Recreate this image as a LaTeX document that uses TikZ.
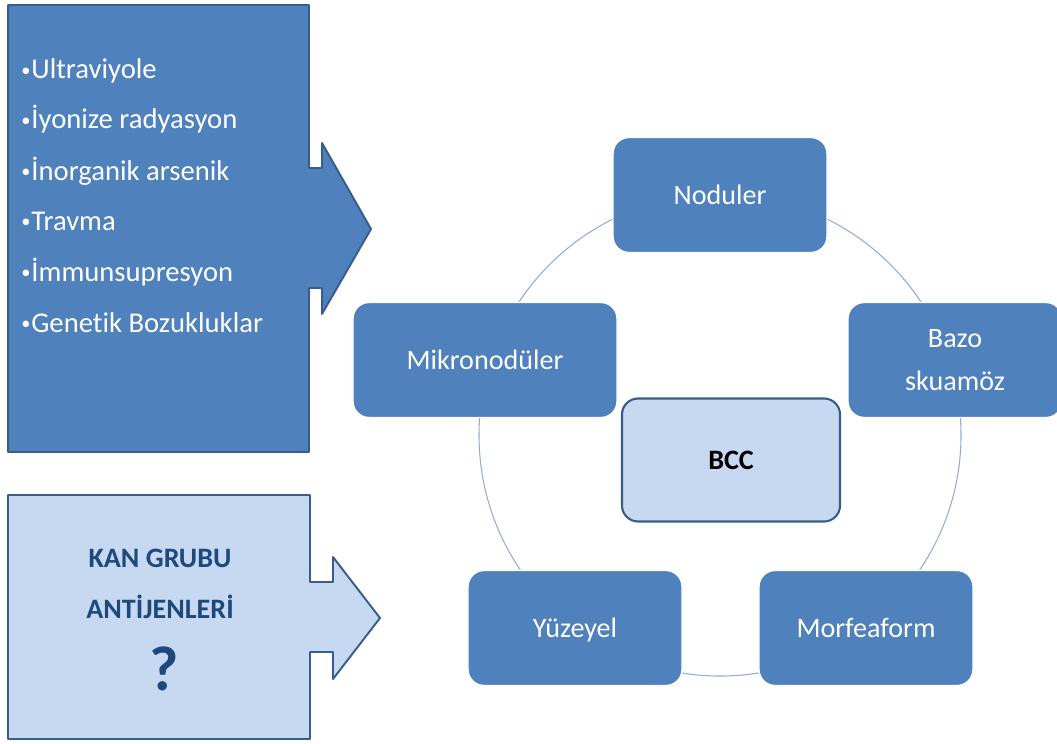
\documentclass[tikz,border=0pt]{standalone}
\usepackage{fontspec}
\setmainfont[Ligatures=NoCommon]{Carlito}
\usetikzlibrary{positioning}

\definecolor{accblue}{HTML}{4F81BD}
\definecolor{accdark}{HTML}{385D8A}
\definecolor{acclight}{HTML}{C6D9F1}
\definecolor{accnavy}{HTML}{1F497D}
\definecolor{ringblue}{HTML}{8FADD6}

\newcommand{\smallbul}{{\fontsize{10.5}{12}\selectfont\raisebox{1.4pt}{•}}\hspace{0.5pt}}

\begin{document}
\begin{tikzpicture}[line cap=round,line join=round,x=0.2mm,y=-0.2mm,
  cyclebox/.style={rectangle,rounded corners=3.2mm,fill=accblue,draw=white,line width=0.8pt,
    minimum width=42.8mm,minimum height=23mm,text=white,align=center,text depth=0pt,
    font=\fontsize{16}{24}\selectfont},
  centrebox/.style={rectangle,rounded corners=3.2mm,fill=acclight,draw=accdark,line width=1.2pt,
    minimum width=43.6mm,minimum height=24.6mm,text=black,
    font=\fontsize{16}{18}\selectfont\bfseries},
  listitem/.style={anchor=base west,inner sep=0pt,text=white,font=\fontsize{16.3}{18}\selectfont},
  antitem/.style={anchor=base,inner sep=0pt,text=accnavy,font=\fontsize{16}{18}\selectfont\bfseries},
  ringline/.style={draw=ringblue,line width=0.6pt}]
\useasboundingbox (0,0) rectangle (1057,743);
%\clip (0,0) rectangle (1057,743);
% risk factors callout
\draw [fill=accblue,draw=accdark,line width=1.1pt] (8,5) -- (309,5) -- (309,168) -- (322,168) -- (322,143)
  -- (371,229) -- (322,314) -- (322,288) -- (309,288) -- (309,452) -- (8,452) -- cycle;
\node[listitem] (uv) at (21,79) {\smallbul Ultraviyole};
\node[listitem] (iyon) at (21,129) {\smallbul İyonize radyasyon};
\node[listitem] (ars) at (21,180) {\smallbul İnorganik arsenik};
\node[listitem] (trav) at (21,230) {\smallbul Travma};
\node[listitem] (immun) at (21,281) {\smallbul İmmunsupresyon};
\node[listitem] (gen) at (21,332) {\smallbul Genetik Bozukluklar};
% blood group callout
\draw [fill=acclight,draw=accdark,line width=1.1pt] (8,495) -- (310,495) -- (310,582) -- (333,582) -- (333,557)
  -- (380,618) -- (333,679) -- (333,652) -- (310,652) -- (310,739) -- (8,739) -- cycle;
\node[antitem] (kan) at (160,567) {KAN GRUBU};
\node[antitem] (anti) at (160,618) {ANTİJENLERİ};
\node[antitem,font=\fontsize{36}{38}\selectfont\bfseries] (soru) at (164,690) {?};
% subtype cycle
\draw [ringline] (720,435) circle (241);
\node[cyclebox] (nod) at (720,195) {Noduler};
\node[cyclebox] (bazo) at (955,360) {Bazo\\skuamöz};
\node[cyclebox] (morf) at (866,628) {Morfeaform};
\node[cyclebox] (yuz) at (575,628) {Yüzeyel};
\node[cyclebox,minimum width=52.8mm] (mikro) at (485,360) {Mikronodüler};
\node[centrebox] (bcc) at (731,460) {BCC};
\end{tikzpicture}
\end{document}
